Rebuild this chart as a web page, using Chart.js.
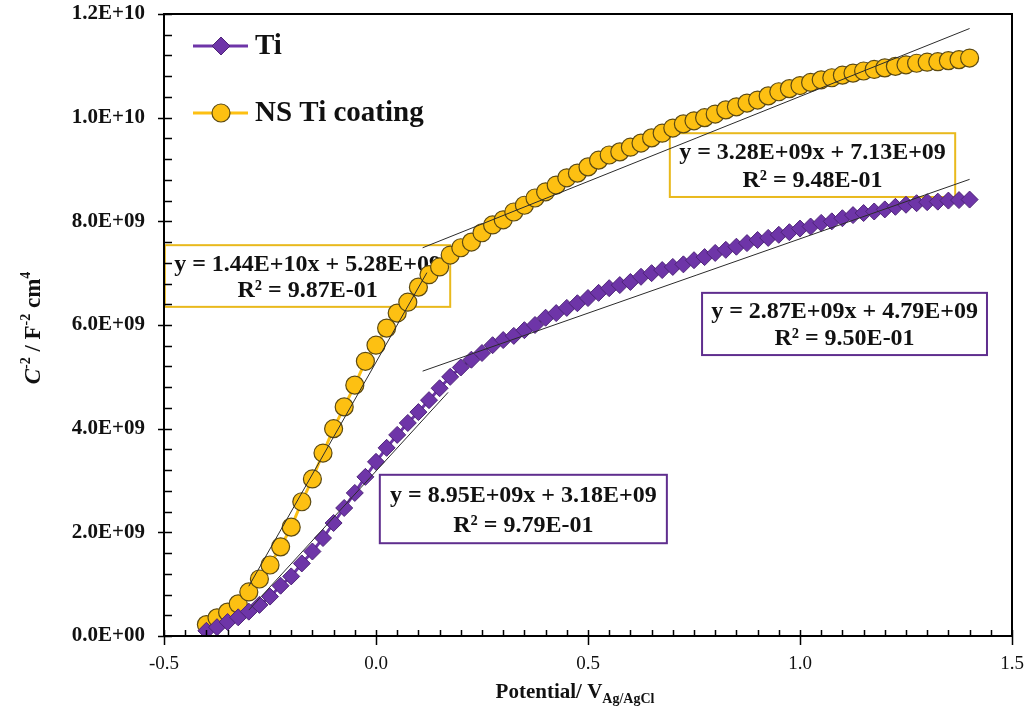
<!DOCTYPE html>
<html>
<head>
<meta charset="utf-8">
<script src="https://cdn.jsdelivr.net/npm/chart.js@4.4.1/dist/chart.umd.min.js"></script>
<style>
  html,body{margin:0;padding:0;background:#fff;}
  #c{display:block;}
</style>
</head>
<body>
<canvas id="c" width="1027" height="713"></canvas>
<script>
// potential (V vs Ag/AgCl), C^-2 values in units of 1E+09
const potential = [-0.400,-0.375,-0.350,-0.325,-0.300,-0.275,-0.250,-0.225,-0.200,-0.175,
  -0.150,-0.125,-0.100,-0.075,-0.050,-0.025,0.000,0.025,0.050,0.075,
  0.100,0.125,0.150,0.175,0.200,0.225,0.250,0.275,0.300,0.325,
  0.350,0.375,0.400,0.425,0.450,0.475,0.500,0.525,0.550,0.575,
  0.600,0.625,0.650,0.675,0.700,0.725,0.750,0.775,0.800,0.825,
  0.850,0.875,0.900,0.925,0.950,0.975,1.000,1.025,1.050,1.075,
  1.100,1.125,1.150,1.175,1.200,1.225,1.250,1.275,1.300,1.325,
  1.350,1.375,1.400];
const tiValues = [0.10,0.17,0.27,0.36,0.47,0.60,0.76,0.97,1.15,1.40,
  1.63,1.89,2.18,2.47,2.76,3.07,3.36,3.63,3.88,4.11,
  4.32,4.55,4.78,5.00,5.18,5.33,5.46,5.61,5.71,5.79,
  5.90,6.00,6.14,6.23,6.33,6.42,6.52,6.62,6.71,6.77,
  6.83,6.93,7.00,7.06,7.12,7.17,7.25,7.31,7.39,7.45,
  7.51,7.58,7.64,7.68,7.74,7.79,7.86,7.90,7.97,8.00,
  8.06,8.12,8.16,8.19,8.23,8.28,8.32,8.35,8.37,8.38,
  8.40,8.41,8.42];
const nsValues = [0.22,0.35,0.46,0.62,0.85,1.10,1.37,1.72,2.10,2.59,
  3.03,3.53,4.00,4.42,4.84,5.30,5.61,5.94,6.23,6.44,
  6.73,6.97,7.12,7.35,7.49,7.60,7.78,7.93,8.03,8.18,
  8.31,8.45,8.57,8.70,8.84,8.93,9.05,9.18,9.28,9.34,
  9.43,9.51,9.61,9.70,9.80,9.88,9.94,10.00,10.07,10.15,
  10.21,10.28,10.34,10.42,10.50,10.56,10.62,10.68,10.73,10.77,
  10.82,10.86,10.90,10.93,10.96,10.99,11.02,11.05,11.07,11.08,
  11.10,11.12,11.15];
// linear fit segments: [x, y(1E+09)]
const tiFitLow  = [[-0.30, 0.50], [0.17, 4.70]];
const tiFitHigh = [[0.11, 5.11], [1.40, 8.81]];
const nsFitLow  = [[-0.30, 0.96], [0.12, 7.01]];
const nsFitHigh = [[0.11, 7.49], [1.40, 11.72]];
const seriesNames = ['Ti', 'NS Ti coating'];
const fitLabels = [
  ['y = 1.44E+10x + 5.28E+09', 'R\u00b2 = 9.87E-01'],
  ['y = 3.28E+09x + 7.13E+09', 'R\u00b2 = 9.48E-01'],
  ['y = 2.87E+09x + 4.79E+09', 'R\u00b2 = 9.50E-01'],
  ['y = 8.95E+09x + 3.18E+09', 'R\u00b2 = 9.79E-01']
];
const xTicks = [-0.5, 0.0, 0.5, 1.0, 1.5];

const PURPLE = '#6e35a8', YELLOW = '#fdc012';
const GOLD_BOX = '#e9b91c', PURPLE_BOX = '#5f2e8e';
const SERIF = '"Liberation Serif", "Times New Roman", serif';

function pts(xs, ys){ return xs.map((x,i)=>({x:x, y:ys[i]*1e9})); }
function seg(s){ return s.map(p=>({x:p[0], y:p[1]*1e9})); }
function sci(v){
  const parts = v.toExponential(1).split('e');
  const e = parseInt(parts[1],10);
  return parts[0] + 'E' + (e<0?'-':'+') + String(Math.abs(e)).padStart(2,'0');
}

// boxes placed in data coordinates: x range, y range (1E+09)
const boxes = [
  {x:[-0.498,0.175], y:[7.54,6.35], color:GOLD_BOX, text:fitLabels[0]},
  {x:[0.693,1.366], y:[9.70,8.47], color:GOLD_BOX, text:fitLabels[1]},
  {x:[0.769,1.441], y:[6.62,5.42], color:PURPLE_BOX, text:fitLabels[2]},
  {x:[0.009,0.686], y:[3.11,1.79], color:PURPLE_BOX, text:fitLabels[3]}
];

const decor = {
  id:'decor',
  beforeDatasetsDraw(chart){
    const {ctx, scales:{x,y}} = chart;
    ctx.save();
    boxes.forEach(b=>{
      const l = x.getPixelForValue(b.x[0]), r = x.getPixelForValue(b.x[1]);
      const t = y.getPixelForValue(b.y[0]*1e9), btm = y.getPixelForValue(b.y[1]*1e9);
      ctx.fillStyle = '#fff';
      ctx.fillRect(l, t, r-l, btm-t);
      ctx.lineWidth = 2; ctx.strokeStyle = b.color;
      ctx.strokeRect(l, t, r-l, btm-t);
      ctx.fillStyle = '#111';
      ctx.font = 'bold 24px ' + SERIF;
      ctx.textAlign = 'center'; ctx.textBaseline = 'middle';
      const cx = (l+r)/2, h = btm-t;
      ctx.fillText(b.text[0], cx, t + h*0.31);
      ctx.fillText(b.text[1], cx, t + h*0.74);
    });
    ctx.restore();
  },
  afterDraw(chart){
    const {ctx, chartArea:a, scales:{x,y}} = chart;
    ctx.save();
    // frame
    ctx.strokeStyle = '#000'; ctx.lineWidth = 2;
    ctx.strokeRect(a.left, a.top, a.right-a.left, a.bottom-a.top);
    ctx.lineWidth = 1.5;
    ctx.beginPath();
    // y ticks
    for(let i=0;i<=30;i++){
      const py = Math.round(y.getPixelForValue(i*0.4e9))+0.5;
      if(i%5===0){ ctx.moveTo(a.left-6, py); ctx.lineTo(a.left+8, py); }
      else { ctx.moveTo(a.left, py); ctx.lineTo(a.left+8, py); }
    }
    // x ticks
    for(let i=0;i<=40;i++){
      const px = Math.round(x.getPixelForValue(-0.5+i*0.05))+0.5;
      if(i%10===0){ ctx.moveTo(px, a.bottom-6); ctx.lineTo(px, a.bottom+9); }
      else { ctx.moveTo(px, a.bottom); ctx.lineTo(px, a.bottom-6); }
    }
    ctx.stroke();

    // legend
    const lx = a.left+29, ly1 = a.top+32, ly2 = a.top+99;
    ctx.lineWidth = 3;
    ctx.strokeStyle = PURPLE;
    ctx.beginPath(); ctx.moveTo(lx, ly1); ctx.lineTo(lx+55, ly1); ctx.stroke();
    ctx.fillStyle = PURPLE; ctx.strokeStyle = '#4e2478'; ctx.lineWidth = 1;
    ctx.beginPath();
    ctx.moveTo(lx+28, ly1-9); ctx.lineTo(lx+37, ly1); ctx.lineTo(lx+28, ly1+9); ctx.lineTo(lx+19, ly1);
    ctx.closePath(); ctx.fill(); ctx.stroke();
    ctx.lineWidth = 3; ctx.strokeStyle = YELLOW;
    ctx.beginPath(); ctx.moveTo(lx, ly2); ctx.lineTo(lx+55, ly2); ctx.stroke();
    ctx.fillStyle = YELLOW; ctx.strokeStyle = '#5c4a12'; ctx.lineWidth = 1.2;
    ctx.beginPath(); ctx.arc(lx+28, ly2, 9, 0, Math.PI*2); ctx.fill(); ctx.stroke();
    ctx.fillStyle = '#111';
    ctx.font = 'bold 29px ' + SERIF;
    ctx.textAlign = 'left'; ctx.textBaseline = 'middle';
    ctx.fillText(seriesNames[0], lx+62, ly1+1);
    ctx.fillText(seriesNames[1], lx+62, ly2+1);

    // x axis title with subscript
    const main = 'Potential/ V', sub = 'Ag/AgCl';
    ctx.font = 'bold 21px ' + SERIF;
    const w1 = ctx.measureText(main).width;
    ctx.font = 'bold 14px ' + SERIF;
    const w2 = ctx.measureText(sub).width;
    let sx = 575 - (w1+w2)/2;
    const ty = 692;
    ctx.textBaseline = 'alphabetic';
    ctx.font = 'bold 21px ' + SERIF;
    ctx.fillText(main, sx, ty+6);
    ctx.font = 'bold 14px ' + SERIF;
    ctx.fillText(sub, sx+w1, ty+11);

    // y axis title, rotated, with superscripts
    ctx.translate(32, 328);
    ctx.rotate(-Math.PI/2);
    const parts = [
      ['C','italic bold 23px',0], ['-2','bold 14px',-10], [' / F','bold 23px',0],
      ['-2','bold 14px',-10], [' cm','bold 23px',0], ['4','bold 14px',-10]
    ];
    let tw = 0;
    parts.forEach(p=>{ ctx.font = p[1]+' '+SERIF; tw += ctx.measureText(p[0]).width; });
    let cx = -tw/2;
    parts.forEach(p=>{
      ctx.font = p[1]+' '+SERIF;
      ctx.fillText(p[0], cx, 8+p[2]);
      cx += ctx.measureText(p[0]).width;
    });
    ctx.restore();
  }
};

const fitStyle = {type:'line', borderColor:'#2b2b2b', borderWidth:1, pointRadius:0, fill:false, order:0};

new Chart(document.getElementById('c'), {
  type:'line',
  data:{
    datasets:[
      Object.assign({label:'fitTiLow', data:seg(tiFitLow)}, fitStyle),
      Object.assign({label:'fitTiHigh', data:seg(tiFitHigh)}, fitStyle),
      Object.assign({label:'fitNsLow', data:seg(nsFitLow)}, fitStyle),
      Object.assign({label:'fitNsHigh', data:seg(nsFitHigh)}, fitStyle),
      {
        label:seriesNames[0], data:pts(potential, tiValues), order:1,
        borderColor:PURPLE, borderWidth:3, backgroundColor:PURPLE,
        pointStyle:'rectRot', pointRadius:8.5, pointBorderColor:'#4e2478', pointBorderWidth:1,
        pointBackgroundColor:PURPLE, tension:0
      },
      {
        label:seriesNames[1], data:pts(potential, nsValues), order:2,
        borderColor:YELLOW, borderWidth:3, backgroundColor:YELLOW,
        pointStyle:'circle', pointRadius:9, pointBorderColor:'#5c4a12', pointBorderWidth:1.2,
        pointBackgroundColor:YELLOW, tension:0
      }
    ]
  },
  options:{
    responsive:false, animation:false, devicePixelRatio:1,
    layout:{padding:{top:14, right:15, left:0, bottom:0}},
    plugins:{legend:{display:false}, tooltip:{enabled:false}},
    scales:{
      x:{
        type:'linear', min:-0.5, max:1.5,
        afterBuildTicks(s){ s.ticks = xTicks.map(v=>({value:v})); },
        afterFit(s){ s.height = 77; s.paddingLeft = 0; s.paddingRight = 0; },
        grid:{display:false, drawTicks:false}, border:{display:false},
        ticks:{
          padding:17, color:'#111',
          font:{family:SERIF, size:19},
          callback:v=>Number(v).toFixed(1)
        }
      },
      y:{
        type:'linear', min:0, max:1.2e10,
        afterFit(s){ s.width = 164; s.paddingTop = 0; s.paddingBottom = 0; },
        grid:{display:false, drawTicks:false}, border:{display:false},
        ticks:{
          stepSize:2e9, padding:19, color:'#111',
          font:{family:SERIF, size:21, weight:'bold'},
          callback:v=>sci(v)
        }
      }
    }
  },
  plugins:[decor]
});
</script>
</body>
</html>
